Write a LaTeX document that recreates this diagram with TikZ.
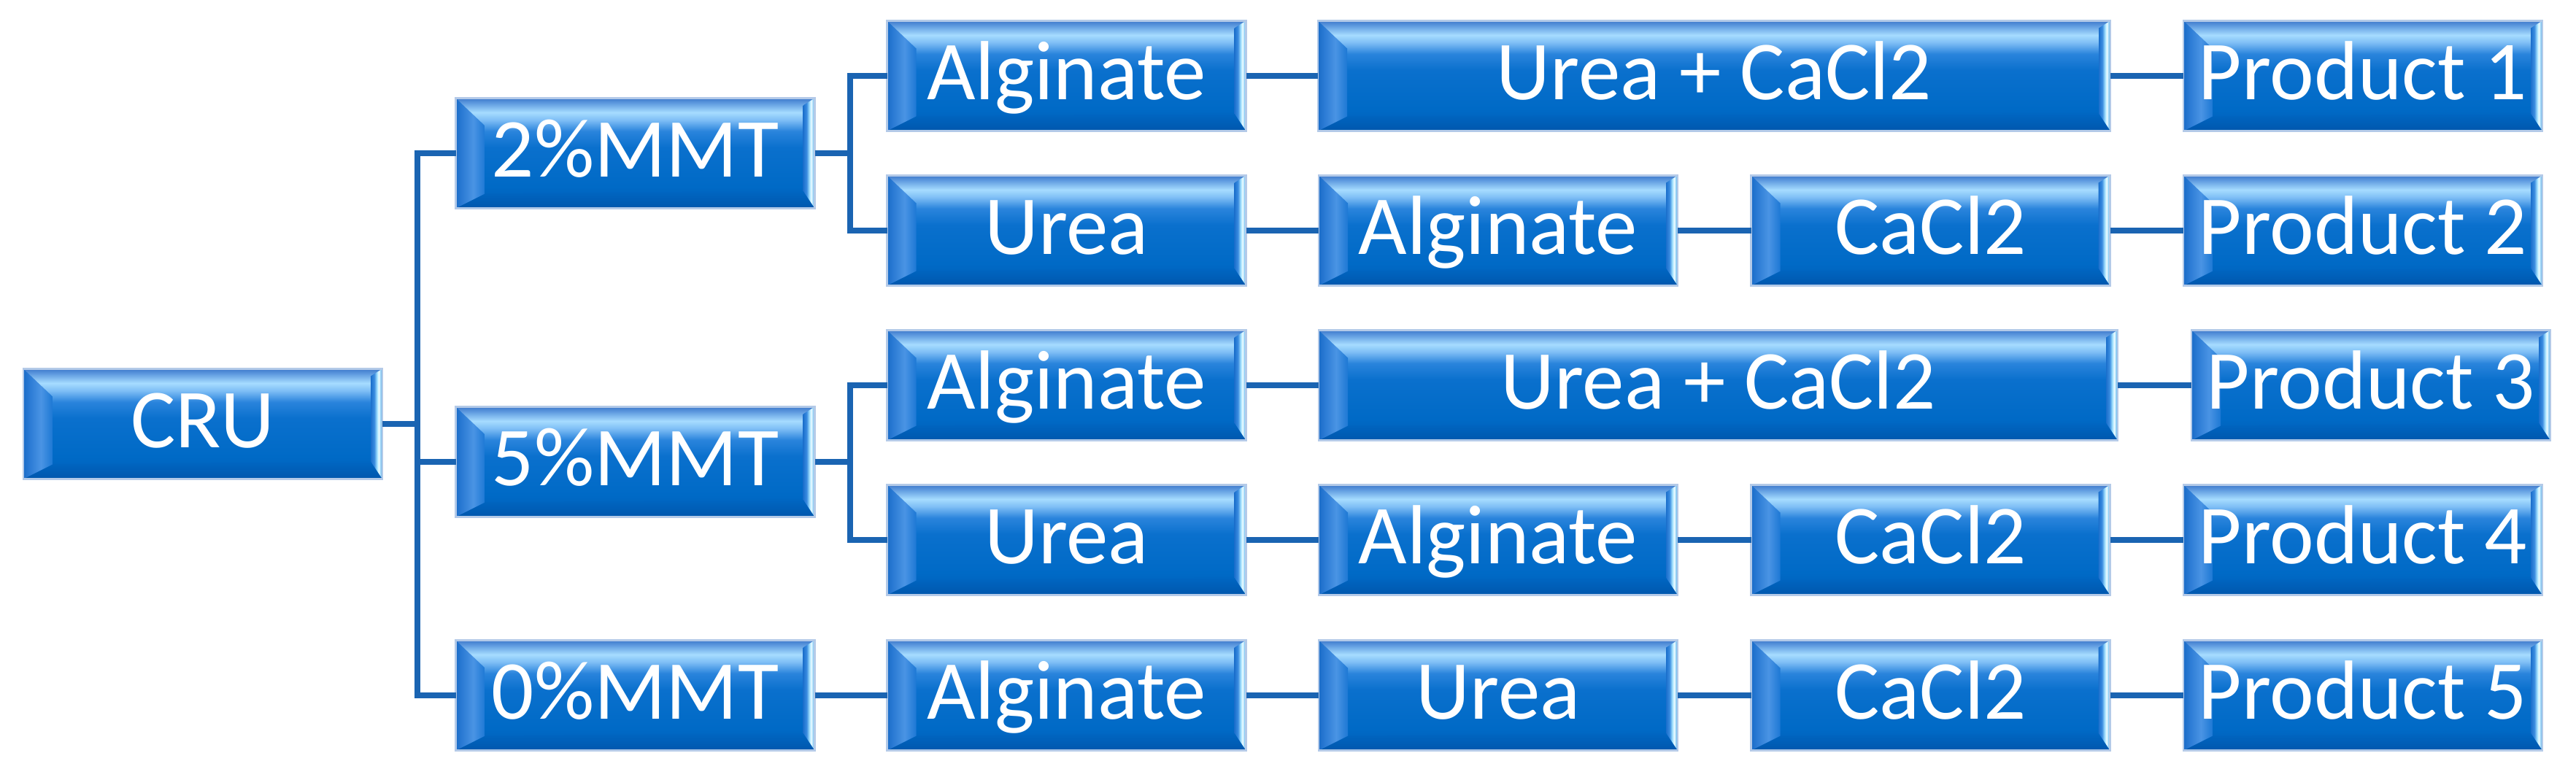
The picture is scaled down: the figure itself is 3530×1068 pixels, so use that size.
\documentclass[tikz,border=0pt]{standalone}
\usepackage{fontspec}
\setmainfont{Carlito}
\usetikzlibrary{calc}

\definecolor{conncol}{RGB}{26,100,178}
\definecolor{edgecol}{RGB}{180,202,232}
% face colours (percent from top)
\definecolor{fA}{HTML}{3F7ACB}
\definecolor{fB}{HTML}{5B97DE}
\definecolor{fC}{HTML}{A6DCFF}
\definecolor{fD}{HTML}{7DBDF5}
\definecolor{fE}{HTML}{2A84DC}
\definecolor{fF}{HTML}{0A70CD}
\definecolor{fG}{HTML}{006AC6}
\definecolor{fH}{HTML}{0060BA}
\definecolor{fI}{HTML}{2A66B8}
% left bevel
\definecolor{lA}{HTML}{1A6CC8}
\definecolor{lB}{HTML}{2A7AD4}
\definecolor{lC}{HTML}{4A94E4}
\definecolor{lD}{HTML}{1D78D4}
% right bevel
\definecolor{rA}{HTML}{1B6FCC}
\definecolor{rB}{HTML}{3A8CE0}
\definecolor{rC}{HTML}{A8E4FF}
\definecolor{rD}{HTML}{EEFCFF}
\definecolor{rE}{HTML}{8FCFF5}
\definecolor{rF}{HTML}{3A7CCC}
% bottom bevel
\definecolor{bA}{HTML}{0057AD}
\definecolor{bB}{HTML}{0066C2}

\pgfdeclareverticalshading{facesh}{100bp}{color(0bp)=(fI); color(25bp)=(fI); color(27bp)=(fH); color(35bp)=(fG); color(52.5bp)=(fF); color(60bp)=(fE); color(65bp)=(fD); color(68.5bp)=(fC); color(73bp)=(fB); color(75bp)=(fA); color(100bp)=(fA)}
\pgfdeclarehorizontalshading{leftsh}{100bp}{color(0bp)=(lA); color(25bp)=(lA); color(35bp)=(lB); color(55bp)=(lC); color(75bp)=(lD); color(100bp)=(lD)}
\pgfdeclarehorizontalshading{rightsh}{100bp}{color(0bp)=(rA); color(25bp)=(rA); color(40bp)=(rB); color(52.5bp)=(rC); color(60bp)=(rD); color(67.5bp)=(rE); color(75bp)=(rF); color(100bp)=(rF)}

\tikzset{
  bevbox/.style={rectangle, minimum width=492pt, minimum height=151pt,
    inner sep=0pt, outer sep=0pt, text=white,
    font=\fontsize{115}{120}\selectfont, text height=74pt, text depth=8pt,
    draw=edgecol, line width=2.5pt,
    path picture={
      \coordinate (pNW) at (path picture bounding box.north west);
      \coordinate (pNE) at (path picture bounding box.north east);
      \coordinate (pSW) at (path picture bounding box.south west);
      \coordinate (pSE) at (path picture bounding box.south east);
      \shade[shading=facesh] (pSW) rectangle (pNE);
      \shade[top color=bB, bottom color=bA] (pSW) -- ([xshift=40pt,yshift=20pt]pSW) -- ([xshift=-16pt,yshift=24pt]pSE) -- (pSE) -- cycle;
      \shade[shading=leftsh] (pSW) -- (pNW) -- ([xshift=40pt,yshift=-38pt]pNW) -- ([xshift=40pt,yshift=20pt]pSW) -- cycle;
      \shade[shading=rightsh] (pSE) -- (pNE) -- ([xshift=-16pt,yshift=-10pt]pNE) -- ([xshift=-16pt,yshift=24pt]pSE) -- cycle;
    }},
  conn/.style={draw=conncol, line width=8pt}
}

\begin{document}
\begin{tikzpicture}[x=1pt,y=1pt]
\useasboundingbox (0,0) rectangle (3530,1068);

% level 0 and 1
\node[bevbox] (cru) at (278,487) {CRU};
\node[bevbox] (m2) at (870.5,858) {2\%MMT};
\node[bevbox] (m5) at (870.5,435) {5\%MMT};
\node[bevbox] (m0) at (870.5,115) {0\%MMT};

% row 1
\node[bevbox] (a1) at (1461.5,964) {Alginate};
\node[bevbox, minimum width=1086pt] (ucl1) at (2349,964) {Urea + CaCl2};
\node[bevbox] (p1) at (3238,964) {Product 1};
% row 2
\node[bevbox] (u2) at (1461.5,752) {Urea};
\node[bevbox] (a2) at (2053,752) {Alginate};
\node[bevbox] (c2) at (2645.5,752) {CaCl2};
\node[bevbox] (p2) at (3238,752) {Product 2};
% row 3
\node[bevbox] (a3) at (1461.5,540) {Alginate};
\node[bevbox, minimum width=1095pt] (ucl3) at (2354.5,540) {Urea + CaCl2};
\node[bevbox] (p3) at (3249,540) {Product 3};
% row 4
\node[bevbox] (u4) at (1461.5,328) {Urea};
\node[bevbox] (a4) at (2053,328) {Alginate};
\node[bevbox] (c4) at (2645.5,328) {CaCl2};
\node[bevbox] (p4) at (3238,328) {Product 4};
% row 5
\node[bevbox] (a5) at (1461.5,115) {Alginate};
\node[bevbox] (u5) at (2053,115) {Urea};
\node[bevbox] (c5) at (2645.5,115) {CaCl2};
\node[bevbox] (p5) at (3238,115) {Product 5};

\coordinate (t1) at (572,0);
\coordinate (t2) at (1165,0);

% tree connectors
\draw[conn] (cru.east) -- (cru.east -| t1);
\draw[conn] (m2.west) -- (m2.west -| t1) -- (m0.west -| t1) -- (m0.west);
\draw[conn] (m5.west) -- (m5.west -| t1);

\draw[conn] (m2.east) -- (m2.east -| t2);
\draw[conn] (a1.west) -- (a1.west -| t2) -- (u2.west -| t2) -- (u2.west);
\draw[conn] (m5.east) -- (m5.east -| t2);
\draw[conn] (a3.west) -- (a3.west -| t2) -- (u4.west -| t2) -- (u4.west);

% chains
\draw[conn] (a1.east) -- (ucl1.west);
\draw[conn] (ucl1.east) -- (p1.west);
\draw[conn] (u2.east) -- (a2.west);
\draw[conn] (a2.east) -- (c2.west);
\draw[conn] (c2.east) -- (p2.west);
\draw[conn] (a3.east) -- (ucl3.west);
\draw[conn] (ucl3.east) -- (p3.west);
\draw[conn] (u4.east) -- (a4.west);
\draw[conn] (a4.east) -- (c4.west);
\draw[conn] (c4.east) -- (p4.west);
\draw[conn] (m0.east) -- (a5.west);
\draw[conn] (a5.east) -- (u5.west);
\draw[conn] (u5.east) -- (c5.west);
\draw[conn] (c5.east) -- (p5.west);
\end{tikzpicture}
\end{document}
